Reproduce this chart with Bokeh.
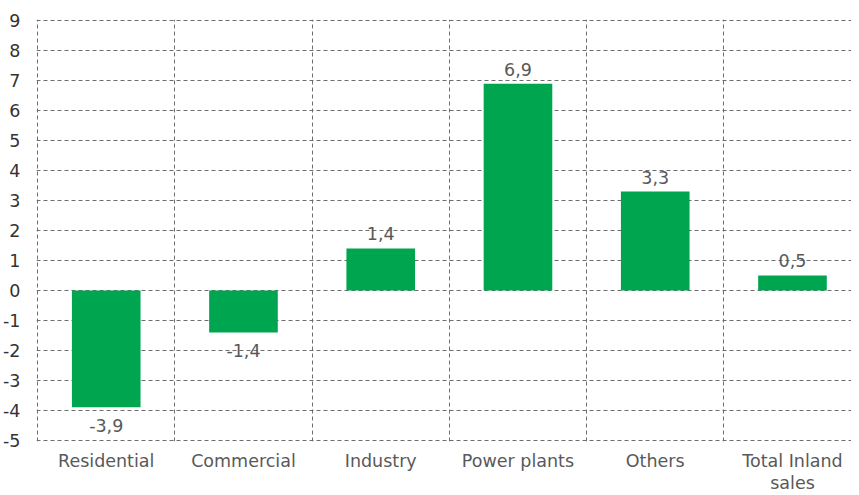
from bokeh.plotting import figure
from bokeh.models import FixedTicker, Range1d
from bokeh.core.properties import value
from bokeh.embed import file_html
from bokeh.resources import INLINE

categories = ["Residential", "Commercial", "Industry", "Power plants", "Others", "Total Inland\nsales"]
values = [-3.9, -1.4, 1.4, 6.9, 3.3, 0.5]
y_ticks = list(range(-5, 10))

FONT = "DejaVu Sans"
GREEN = "#00A54F"
FS = "17.5px"

xs = [i + 0.5 for i in range(len(categories))]
labels = [f"{v:.1f}".replace(".", ",") for v in values]

p = figure(width=851, height=495, output_backend="svg", toolbar_location=None,
           x_range=Range1d(-0.008, 5.93), y_range=Range1d(-5.04, 9.04),
           min_border_left=33, min_border_right=0, min_border_top=19, min_border_bottom=40)
p.outline_line_color = None
p.background_fill_color = "white"
p.border_fill_color = "white"

p.vbar(x=xs, top=values, bottom=0, width=0.5, fill_color=GREEN, line_color=None)

pos = [i for i, v in enumerate(values) if v >= 0]
neg = [i for i, v in enumerate(values) if v < 0]
p.text(x=[xs[i] for i in pos], y=[values[i] for i in pos], text=[labels[i] for i in pos],
       text_align="center", text_baseline="bottom", y_offset=-8,
       text_font=value(FONT), text_font_size=FS, text_color="#595959")
p.text(x=[xs[i] for i in neg], y=[values[i] for i in neg], text=[labels[i] for i in neg],
       text_align="center", text_baseline="top", y_offset=12,
       text_font=value(FONT), text_font_size=FS, text_color="#595959")

p.xaxis.ticker = FixedTicker(ticks=xs)
p.xaxis.major_label_overrides = {x: c for x, c in zip(xs, categories)}
p.yaxis.ticker = FixedTicker(ticks=y_ticks)
p.yaxis.major_label_overrides = {t: str(t) for t in y_ticks}
for ax in (p.xaxis[0], p.yaxis[0]):
    ax.axis_line_color = None
    ax.major_tick_line_color = None
    ax.minor_tick_line_color = None
    ax.major_label_text_font = FONT
    ax.major_label_text_font_size = FS
p.xaxis.major_label_text_color = "#595959"
p.xaxis.major_label_text_line_height = 1.1
p.yaxis.major_label_text_color = "#333333"
p.xaxis.major_label_standoff = 3
p.yaxis.major_label_standoff = 10

p.xgrid.ticker = FixedTicker(ticks=list(range(0, 7)))
p.ygrid.ticker = FixedTicker(ticks=y_ticks)
for g in (p.xgrid[0], p.ygrid[0]):
    g.grid_line_color = "#6e6e6e"
    g.grid_line_dash = "4 3"
    g.grid_line_width = 1

open("out.html", "w").write(file_html(p, INLINE))
